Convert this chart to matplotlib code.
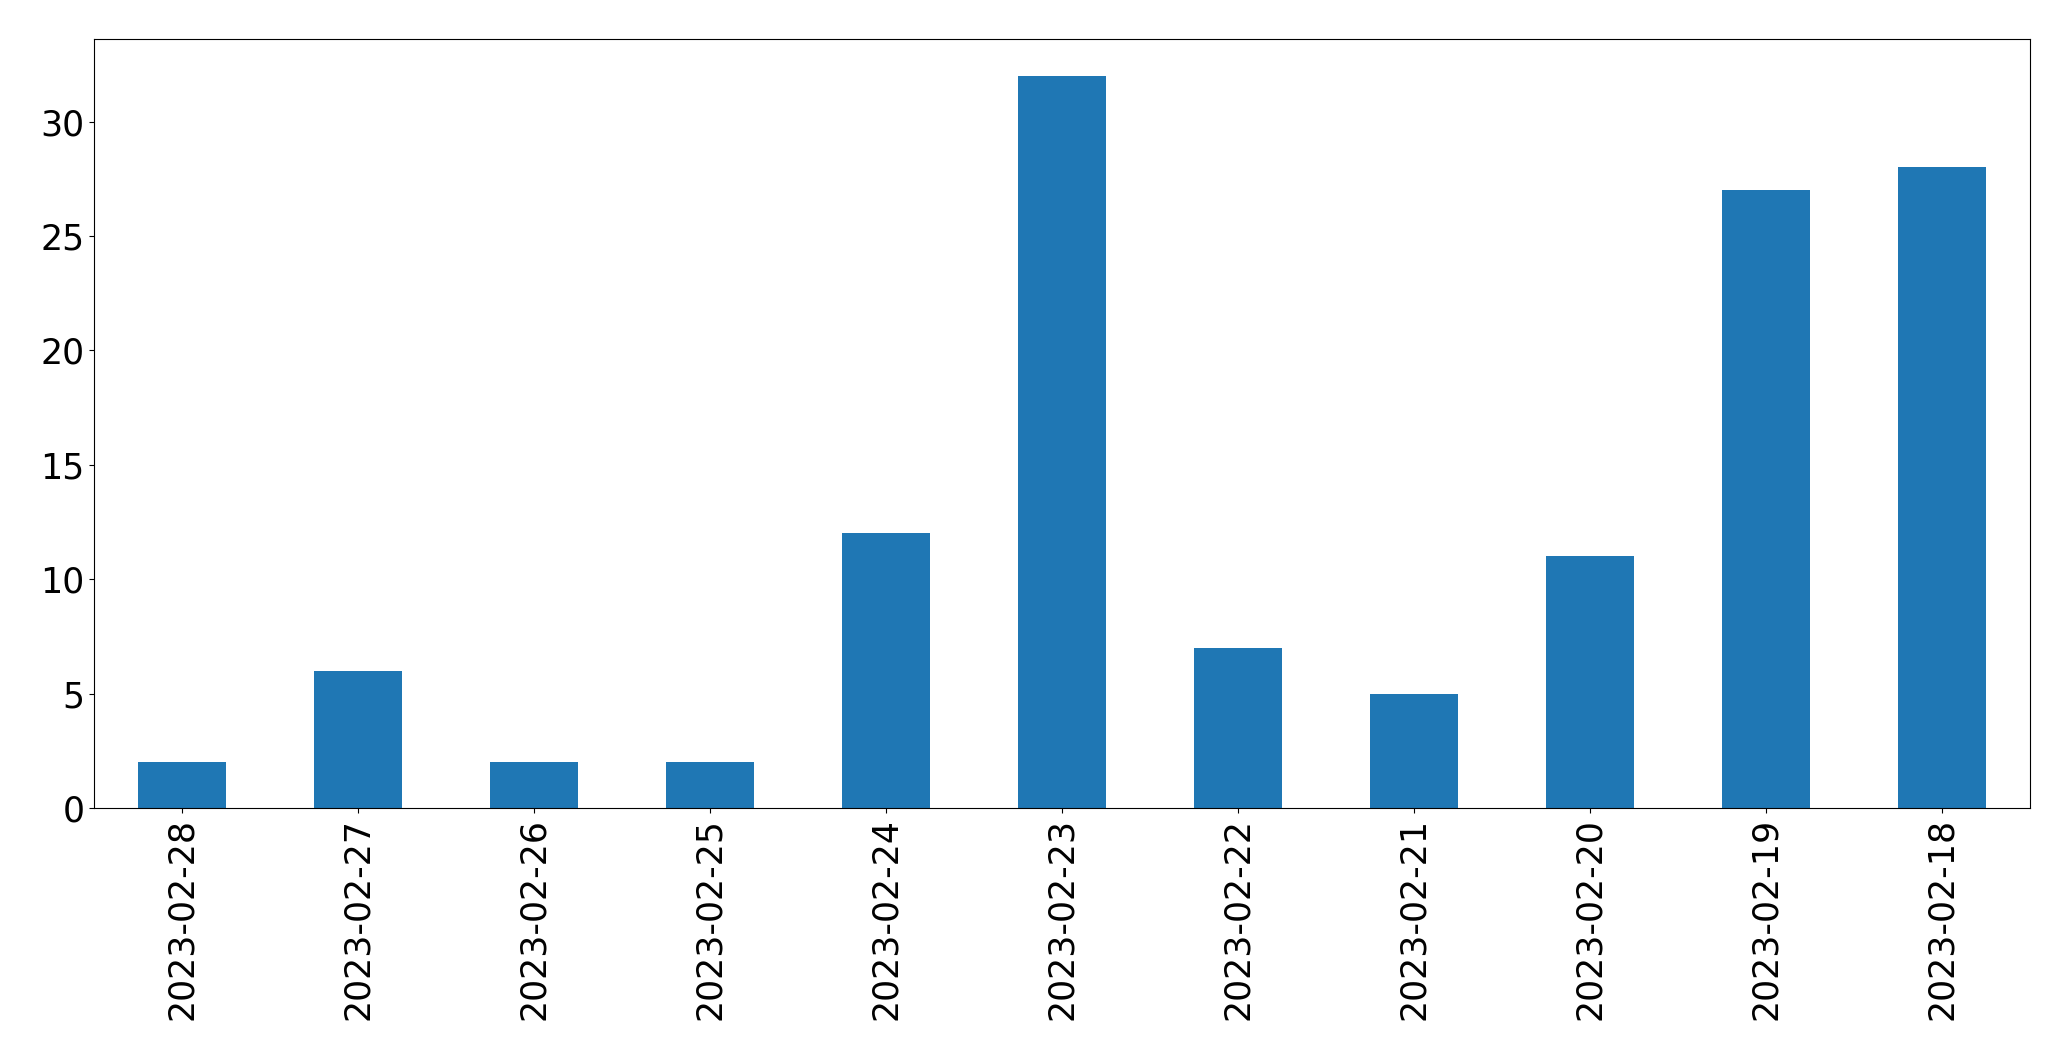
import matplotlib
matplotlib.use("Agg")
import matplotlib.pyplot as plt

dates = ["2023-02-28", "2023-02-27", "2023-02-26", "2023-02-25", "2023-02-24",
         "2023-02-23", "2023-02-22", "2023-02-21", "2023-02-20", "2023-02-19",
         "2023-02-18"]
counts = [2, 6, 2, 2, 12, 32, 7, 5, 11, 27, 28]

fig, ax = plt.subplots(figsize=(20.71, 10.61), dpi=100)
x = range(len(dates))
ax.bar(x, counts, width=0.5, color="#1f77b4")
ax.set_xticks(list(x))
ax.set_xticklabels(dates, rotation=90)
ax.set_xlim(-0.5, len(dates) - 0.5)
ax.tick_params(labelsize=25)
fig.subplots_adjust(left=0.0454, right=0.980, top=0.963, bottom=0.2385)
fig.savefig("out.png")
